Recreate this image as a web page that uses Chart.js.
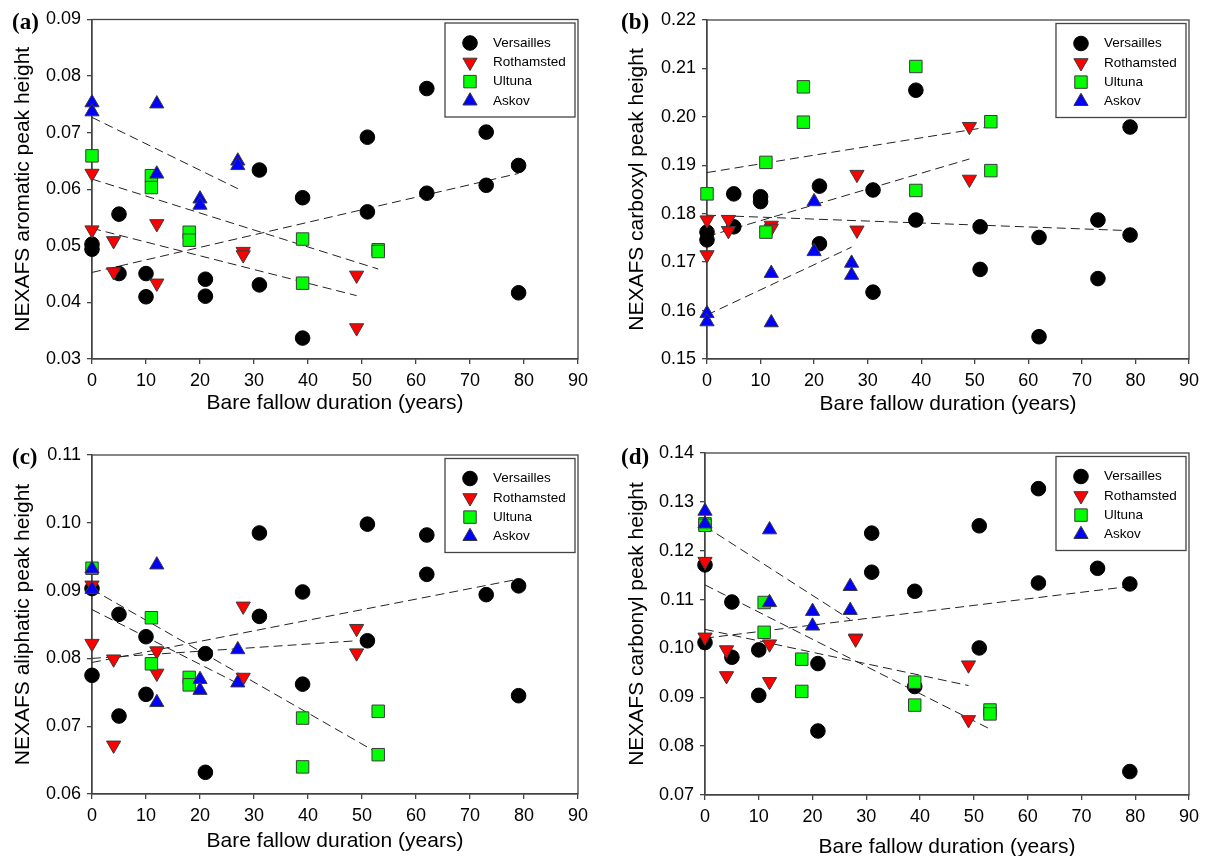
<!DOCTYPE html>
<html>
<head>
<meta charset="utf-8">
<script src="https://cdn.jsdelivr.net/npm/chart.js@4.4.1/dist/chart.umd.min.js"></script>
<style>
  body { margin: 0; background: #fff; }
  #wrap { position: relative; width: 1205px; height: 856px; overflow: hidden; background: #fff; }
  #wrap canvas { position: absolute; }
</style>
</head>
<body>
<div id="wrap"></div>
<script>
// years of bare fallow for each site (x values)
const versaillesYears = [0, 0, 5, 5, 10, 10, 21, 21, 31, 31, 39, 39, 51, 51, 62, 62, 73, 73, 79, 79];
const rothamstedYears = [0, 0, 4, 4, 12, 12, 28, 28, 49, 49];
const ultunaYears = [0, 0, 11, 11, 18, 18, 39, 39, 53, 53];
const askovYears = [0, 0, 12, 12, 20, 20, 27, 27];

// start / end year of the fitted lines
const versaillesTrendYears = [0, 79];
const rothamstedTrendYears = [0, 49];
const ultunaTrendYears = [0, 53];
const askovTrendYears = [0, 27];

const xTicks = [0, 10, 20, 30, 40, 50, 60, 70, 80, 90];

// (a) aromatic
const aromaticVersailles = [0.0503, 0.0494, 0.0556, 0.0451, 0.0451, 0.0410, 0.0441, 0.0411, 0.0634, 0.0431, 0.0585, 0.0337, 0.0692, 0.0560, 0.0778, 0.0593, 0.0701, 0.0607, 0.0642, 0.0417];
const aromaticRothamsted = [0.0628, 0.0528, 0.0509, 0.0454, 0.0539, 0.0434, 0.0490, 0.0484, 0.0448, 0.0355];
const aromaticUltuna = [0.0659, null, 0.0624, 0.0603, 0.0524, 0.0510, 0.0512, 0.0434, 0.0493, 0.0490];
const aromaticAskov = [0.0753, 0.0737, 0.0751, 0.0627, 0.0583, 0.0572, 0.0650, 0.0642];
const aromaticTrendVersailles = [0.0453, 0.0628];
const aromaticTrendRothamsted = [0.0531, 0.0412];
const aromaticTrendUltuna = [0.0618, 0.0459];
const aromaticTrendAskov = [0.0727, 0.0601];
const aromaticTicks = [0.03, 0.04, 0.05, 0.06, 0.07, 0.08, 0.09];

// (b) carboxyl
const carboxylVersailles = [0.1762, 0.1746, 0.1841, 0.1773, 0.1835, 0.1825, 0.1857, 0.1738, 0.1849, 0.1638, 0.2055, 0.1787, 0.1773, 0.1685, 0.1751, 0.1546, 0.1787, 0.1666, 0.1979, 0.1756];
const carboxylRothamsted = [0.1787, 0.1715, 0.1788, 0.1765, 0.1776, 0.1770, 0.1881, 0.1766, 0.1980, 0.1871];
const carboxylUltuna = [0.1841, null, 0.1906, 0.1762, 0.2062, 0.1989, 0.2104, 0.1848, 0.1990, 0.1889];
const carboxylAskov = [0.1594, 0.1577, 0.1677, 0.1575, 0.1825, 0.1722, 0.1698, 0.1673];
const carboxylTrendVersailles = [0.1797, 0.1765];
const carboxylTrendRothamsted = [0.1753, 0.1913];
const carboxylTrendUltuna = [0.1885, 0.1980];
const carboxylTrendAskov = [0.1591, 0.1731];
const carboxylTicks = [0.15, 0.16, 0.17, 0.18, 0.19, 0.20, 0.21, 0.22];

// (c) aliphatic
const aliphaticVersailles = [0.0903, 0.0775, 0.0865, 0.0715, 0.0832, 0.0747, 0.0807, 0.0632, 0.0985, 0.0862, 0.0898, 0.0762, 0.0998, 0.0826, 0.0982, 0.0924, 0.0894, null, 0.0907, 0.0745];
const aliphaticRothamsted = [0.0908, 0.0822, 0.0799, 0.0672, 0.0811, 0.0778, 0.0877, 0.0772, 0.0844, 0.0808];
const aliphaticUltuna = [0.0933, null, 0.0860, 0.0792, 0.0772, 0.0761, 0.0712, 0.0640, 0.0722, 0.0658];
const aliphaticAskov = [0.0932, 0.0902, 0.0938, 0.0735, 0.0769, 0.0753, 0.0813, 0.0764];
const aliphaticTrendVersailles = [0.0794, 0.0917];
const aliphaticTrendRothamsted = [0.0800, 0.0826];
const aliphaticTrendUltuna = [0.0902, 0.0660];
const aliphaticTrendAskov = [0.0872, 0.0763];
const aliphaticTicks = [0.06, 0.07, 0.08, 0.09, 0.10, 0.11];

// (d) carbonyl
const carbonylVersailles = [0.1171, 0.1012, 0.1095, 0.0982, 0.0997, 0.0904, 0.0969, 0.0831, 0.1236, 0.1156, 0.1117, 0.0922, 0.1251, 0.1001, 0.1327, 0.1134, 0.1164, null, 0.1132, 0.0748];
const carbonylRothamsted = [0.1178, 0.1023, 0.0997, 0.0944, 0.1009, 0.0932, 0.1021, 0.1019, 0.0966, 0.0854];
const carbonylUltuna = [0.1255, 0.1252, 0.1094, 0.1033, 0.0978, 0.0912, 0.0931, 0.0884, 0.0874, 0.0866];
const carbonylAskov = [0.1281, 0.1255, 0.1243, 0.1094, 0.1076, 0.1046, 0.1127, 0.1078];
const carbonylTrendVersailles = [0.1021, 0.1127];
const carbonylTrendRothamsted = [0.1039, 0.0924];
const carbonylTrendUltuna = [0.1130, 0.0835];
const carbonylTrendAskov = [0.1250, 0.1059];
const carbonylTicks = [0.07, 0.08, 0.09, 0.10, 0.11, 0.12, 0.13, 0.14];

const siteNames = ['Versailles', 'Rothamsted', 'Ultuna', 'Askov'];
const siteYears = [versaillesYears, rothamstedYears, ultunaYears, askovYears];
const trendYears = [versaillesTrendYears, rothamstedTrendYears, ultunaTrendYears, askovTrendYears];

const FONT = "'Liberation Sans', Arial, sans-serif";

// marker look for each site
const markers = [
  { pointStyle: 'circle', radius: 7.3, rotation: 0, fill: '#000000', border: '#000000' },
  { pointStyle: 'triangle', radius: 8.2, rotation: 180, fill: '#ff0000', border: '#3a3a3a' },
  { pointStyle: 'rect', radius: 8.8, rotation: 0, fill: '#00ff00', border: '#3a3a3a' },
  { pointStyle: 'triangle', radius: 8.2, rotation: 0, fill: '#0000ff', border: '#3a3a3a' }
];

const panels = [
  { label: '(a)', yTitle: 'NEXAFS aromatic peak height', yTicks: aromaticTicks,
    series: [aromaticVersailles, aromaticRothamsted, aromaticUltuna, aromaticAskov],
    trends: [aromaticTrendVersailles, aromaticTrendRothamsted, aromaticTrendUltuna, aromaticTrendAskov],
    box: { x: 0, y: 0, w: 600, h: 428 }, area: { l: 92, t: 19.5, r: 578, b: 359 },
    yTitleX: 23, xTitleY: 403, labelX: 12, labelY: 29 },
  { label: '(b)', yTitle: 'NEXAFS carboxyl peak height', yTicks: carboxylTicks,
    series: [carboxylVersailles, carboxylRothamsted, carboxylUltuna, carboxylAskov],
    trends: [carboxylTrendVersailles, carboxylTrendRothamsted, carboxylTrendUltuna, carboxylTrendAskov],
    box: { x: 600, y: 0, w: 605, h: 428 }, area: { l: 707, t: 20, r: 1192, b: 359 },
    yTitleX: 637, xTitleY: 404, labelX: 621, labelY: 29 },
  { label: '(c)', yTitle: 'NEXAFS aliphatic peak height', yTicks: aliphaticTicks,
    series: [aliphaticVersailles, aliphaticRothamsted, aliphaticUltuna, aliphaticAskov],
    trends: [aliphaticTrendVersailles, aliphaticTrendRothamsted, aliphaticTrendUltuna, aliphaticTrendAskov],
    box: { x: 0, y: 428, w: 600, h: 440 }, area: { l: 92, t: 455, r: 578, b: 794 },
    yTitleX: 23, xTitleY: 841, labelX: 12, labelY: 464 },
  { label: '(d)', yTitle: 'NEXAFS carbonyl peak height', yTicks: carbonylTicks,
    series: [carbonylVersailles, carbonylRothamsted, carbonylUltuna, carbonylAskov],
    trends: [carbonylTrendVersailles, carbonylTrendRothamsted, carbonylTrendUltuna, carbonylTrendAskov],
    box: { x: 600, y: 428, w: 605, h: 440 }, area: { l: 705, t: 453, r: 1193, b: 795 },
    yTitleX: 637, xTitleY: 847, labelX: 621, labelY: 464 }
];

function toPoints(xs, ys) {
  const pts = [];
  for (let i = 0; i < xs.length; i++) {
    if (ys[i] !== null && ys[i] !== undefined) pts.push({ x: xs[i], y: ys[i] });
  }
  return pts;
}

function drawMarker(ctx, m, x, y) {
  ctx.save();
  ctx.fillStyle = m.fill;
  ctx.strokeStyle = m.border;
  ctx.lineWidth = 1;
  Chart.helpers.drawPoint(ctx, { pointStyle: m.pointStyle, radius: m.radius, rotation: m.rotation, borderWidth: 1 }, x, y);
  ctx.restore();
}

// frame round the plot (top and right sides too)
const framePlugin = {
  id: 'frame',
  beforeDatasetsDraw(chart) {
    const a = chart.chartArea, ctx = chart.ctx;
    ctx.save();
    ctx.strokeStyle = '#444';
    ctx.lineWidth = 1.3;
    ctx.strokeRect(a.left, a.top, a.right - a.left, a.bottom - a.top);
    ctx.restore();
  }
};

// boxed legend inside the top right corner + panel letter
const legendBoxPlugin = {
  id: 'legendBox',
  afterDraw(chart, args, opts) {
    const a = chart.chartArea, ctx = chart.ctx;
    const w = 130, h = 94;
    const left = a.right - 3 - w, top = a.top + 3.5;
    ctx.save();
    ctx.fillStyle = '#fff';
    ctx.fillRect(left, top, w, h);
    ctx.strokeStyle = '#444';
    ctx.lineWidth = 1.3;
    ctx.strokeRect(left, top, w, h);
    ctx.font = '13.5px ' + FONT;
    ctx.textBaseline = 'middle';
    ctx.textAlign = 'left';
    siteNames.forEach((name, i) => {
      const y = top + 20 + i * 19.3;
      drawMarker(ctx, markers[i], left + 25, y);
      ctx.fillStyle = '#000';
      ctx.fillText(name, left + 48, y);
    });
    // panel letter
    ctx.font = "bold 23px 'Liberation Serif', 'Times New Roman', serif";
    ctx.textBaseline = 'alphabetic';
    ctx.fillStyle = '#000';
    ctx.fillText(opts.label, opts.x, opts.y);
    ctx.restore();
  }
};

const wrap = document.getElementById('wrap');

panels.forEach(p => {
  const canvas = document.createElement('canvas');
  canvas.width = p.box.w;
  canvas.height = p.box.h;
  canvas.style.left = p.box.x + 'px';
  canvas.style.top = p.box.y + 'px';
  canvas.style.width = p.box.w + 'px';
  canvas.style.height = p.box.h + 'px';
  wrap.appendChild(canvas);

  const datasets = [];
  siteNames.forEach((name, i) => {
    const m = markers[i];
    datasets.push({
      label: name,
      data: toPoints(siteYears[i], p.series[i]),
      pointStyle: m.pointStyle,
      pointRadius: m.radius,
      pointRotation: m.rotation,
      pointBackgroundColor: m.fill,
      pointBorderColor: m.border,
      pointBorderWidth: 1,
      showLine: false,
      clip: false,
      order: 4 - i
    });
  });
  siteNames.forEach((name, i) => {
    datasets.push({
      label: name + ' fit',
      data: toPoints(trendYears[i], p.trends[i]),
      showLine: true,
      pointRadius: 0,
      borderColor: '#222',
      borderWidth: 1,
      borderDash: [9, 5],
      fill: false,
      clip: false,
      order: 10
    });
  });

  const titleHalf = 21 * 1.2 / 2;
  const yMin = p.yTicks[0], yMax = p.yTicks[p.yTicks.length - 1];

  new Chart(canvas, {
    type: 'scatter',
    data: { datasets: datasets },
    options: {
      responsive: false,
      animation: false,
      events: [],
      layout: { padding: { left: 0, top: p.area.t - p.box.y, right: p.box.x + p.box.w - p.area.r, bottom: 0 } },
      plugins: {
        legend: { display: false },
        tooltip: { enabled: false },
        legendBox: { label: p.label, x: p.labelX - p.box.x, y: p.labelY - p.box.y }
      },
      scales: {
        x: {
          type: 'linear',
          min: xTicks[0],
          max: xTicks[xTicks.length - 1],
          afterBuildTicks: s => { s.ticks = xTicks.map(v => ({ value: v })); },
          ticks: { color: '#000', padding: 6, font: { size: 18, family: FONT } },
          grid: { drawOnChartArea: false, tickLength: 5, color: '#444', lineWidth: 1.3 },
          border: { color: '#444', width: 1.3 },
          title: { display: true, text: 'Bare fallow duration (years)', color: '#000',
                   font: { size: 21, family: FONT },
                   padding: { top: 0, bottom: p.box.y + p.box.h - p.xTitleY - titleHalf } },
          afterFit: s => { s.height = p.box.y + p.box.h - p.area.b; }
        },
        y: {
          type: 'linear',
          min: yMin,
          max: yMax,
          afterBuildTicks: s => { s.ticks = p.yTicks.map(v => ({ value: v })); },
          ticks: { color: '#000', padding: 6, font: { size: 18, family: FONT },
                   callback: v => Number(v).toFixed(2) },
          grid: { drawOnChartArea: false, tickLength: 5, color: '#444', lineWidth: 1.3 },
          border: { color: '#444', width: 1.3 },
          title: { display: true, text: p.yTitle, color: '#000',
                   font: { size: 21, family: FONT },
                   padding: { top: p.yTitleX - p.box.x - titleHalf, bottom: 0 } },
          afterFit: s => { s.width = p.area.l - p.box.x; }
        }
      }
    },
    plugins: [framePlugin, legendBoxPlugin]
  });
});
</script>
</body>
</html>
